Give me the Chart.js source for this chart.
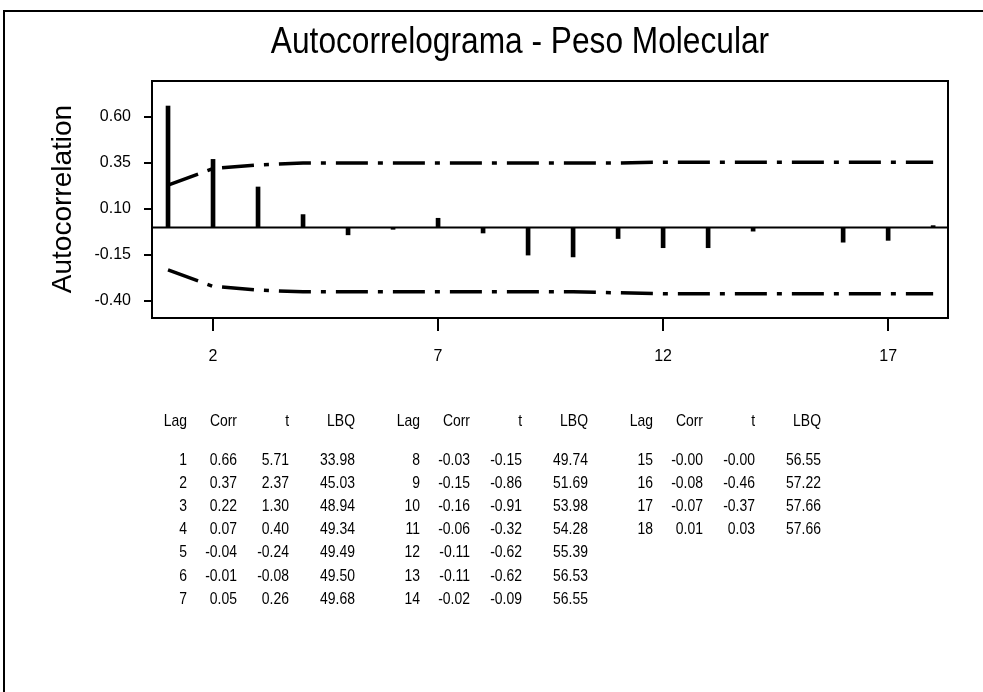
<!DOCTYPE html>
<html>
<head>
<meta charset="utf-8">
<title>Autocorrelograma - Peso Molecular</title>
<script src="https://cdn.jsdelivr.net/npm/chart.js@4.4.1/dist/chart.umd.min.js"></script>
<style>
  html, body { margin: 0; padding: 0; background: #fff; }
  canvas { display: block; }
</style>
</head>
<body>
<canvas id="acf" width="983" height="692"></canvas>
<script>
var lags = [1, 2, 3, 4, 5, 6, 7, 8, 9, 10, 11, 12, 13, 14, 15, 16, 17, 18];
var corr = [0.66, 0.37, 0.22, 0.07, -0.04, -0.01, 0.05, -0.03, -0.15, -0.16, -0.06, -0.11, -0.11, -0.02, -0.00, -0.08, -0.07, 0.01];
var tStat = [5.71, 2.37, 1.30, 0.40, -0.24, -0.08, 0.26, -0.15, -0.86, -0.91, -0.32, -0.62, -0.62, -0.09, -0.00, -0.46, -0.37, 0.03];
var lbq = [33.98, 45.03, 48.94, 49.34, 49.49, 49.50, 49.68, 49.74, 51.69, 53.98, 54.28, 55.39, 56.53, 56.55, 56.55, 57.22, 57.66, 57.66];
var upperLimit = [0.23, 0.32, 0.34, 0.35, 0.35, 0.35, 0.35, 0.35, 0.35, 0.35, 0.35, 0.355, 0.355, 0.355, 0.355, 0.355, 0.355, 0.355];
var lowerLimit = [-0.23, -0.32, -0.34, -0.35, -0.35, -0.35, -0.35, -0.35, -0.35, -0.35, -0.355, -0.36, -0.36, -0.36, -0.36, -0.36, -0.36, -0.36];
var yTicks = [-0.40, -0.15, 0.10, 0.35, 0.60];
var xTicks = [2, 7, 12, 17];
var headers = ["Lag", "Corr", "t", "LBQ"];

var FONT = 'Arial, "Liberation Sans", sans-serif';

function fmt(v) {
    var neg = v < 0 || Object.is(v, -0);
    return (neg ? "-" : "") + Math.abs(v).toFixed(2);
}

function pts(ys) {
    return lags.map(function (l, i) { return { x: l, y: ys[i] }; });
}

// squeezed text, like the old Minitab output
function narrowText(ctx, txt, x, y, sx) {
    ctx.save();
    ctx.translate(x, y);
    ctx.scale(sx, 1);
    ctx.fillText(txt, 0, 0);
    ctx.restore();
}

var extras = {
    id: 'extras',
    beforeDraw: function (chart) {
        var ctx = chart.ctx;
        ctx.save();
        ctx.fillStyle = '#fff';
        ctx.fillRect(0, 0, chart.width, chart.height);
        // page frame
        ctx.strokeStyle = '#000';
        ctx.lineWidth = 2;
        ctx.beginPath();
        ctx.moveTo(4, chart.height);
        ctx.lineTo(4, 11);
        ctx.lineTo(chart.width, 11);
        ctx.stroke();
        ctx.restore();
    },
    afterDatasetsDraw: function (chart) {
        var ctx = chart.ctx;
        var a = chart.chartArea;
        var y0 = chart.scales.y.getPixelForValue(0);
        ctx.save();
        ctx.strokeStyle = '#000';
        ctx.lineWidth = 2;
        ctx.beginPath();
        ctx.moveTo(a.left, y0);
        ctx.lineTo(a.right, y0);
        ctx.stroke();
        ctx.strokeRect(a.left, a.top, a.right - a.left, a.bottom - a.top);
        ctx.restore();
    },
    afterDraw: function (chart) {
        var ctx = chart.ctx;
        ctx.save();
        ctx.fillStyle = '#000';

        ctx.font = '36px ' + FONT;
        ctx.textAlign = 'center';
        ctx.textBaseline = 'alphabetic';
        narrowText(ctx, 'Autocorrelograma - Peso Molecular', 520, 53, 0.88);

        ctx.save();
        ctx.translate(63, 199);
        ctx.rotate(-Math.PI / 2);
        ctx.font = '28px ' + FONT;
        ctx.textBaseline = 'middle';
        ctx.fillText('Autocorrelation', 0, 0);
        ctx.restore();

        // statistics table, three blocks of seven lags
        ctx.font = '17px ' + FONT;
        ctx.textAlign = 'right';
        ctx.textBaseline = 'middle';
        var colOff = [0, 50, 102, 168];
        var blocks = [187, 420, 653];
        blocks.forEach(function (bx, b) {
            headers.forEach(function (h, c) {
                narrowText(ctx, h, bx + colOff[c], 421, 0.82);
            });
            for (var r = 0; r < 7; r++) {
                var i = b * 7 + r;
                if (i >= lags.length) break;
                var y = 460 + r * 23.2;
                var row = [String(lags[i]), fmt(corr[i]), fmt(tStat[i]), fmt(lbq[i])];
                row.forEach(function (txt, c) {
                    narrowText(ctx, txt, bx + colOff[c], y, 0.82);
                });
            }
        });
        ctx.restore();
    }
};

var ct = document.getElementById('acf');

var grafico = new Chart(ct, {
    data: {
        datasets: [{
            type: 'bar',
            label: 'Corr',
            data: pts(corr),
            backgroundColor: '#000',
            borderWidth: 0,
            barThickness: 4,
            order: 2
        },
        {
            type: 'line',
            label: 'Upper',
            data: pts(upperLimit),
            borderColor: '#000',
            borderWidth: 3.5,
            borderDash: [32, 10, 5, 10],
            pointRadius: 0,
            tension: 0,
            fill: false,
            order: 1
        },
        {
            type: 'line',
            label: 'Lower',
            data: pts(lowerLimit),
            borderColor: '#000',
            borderWidth: 3.5,
            borderDash: [32, 10, 5, 10],
            pointRadius: 0,
            tension: 0,
            fill: false,
            order: 1
        }]
    },
    options: {
        responsive: false,
        animation: false,
        layout: { padding: { left: 0, top: 81, right: 35, bottom: 314 } },
        plugins: {
            legend: { display: false },
            tooltip: { enabled: false }
        },
        scales: {
            x: {
                type: 'linear',
                min: 0.644,
                max: 18.33,
                offset: false,
                afterBuildTicks: function (axis) {
                    axis.ticks = xTicks.map(function (v) { return { value: v }; });
                },
                afterFit: function (axis) { axis.height = 60; },
                grid: { offset: false, drawOnChartArea: false, drawTicks: true, tickLength: 13, color: '#000', lineWidth: 2 },
                border: { display: true, color: '#000', width: 2 },
                ticks: {
                    color: '#000',
                    font: { family: FONT, size: 16 },
                    padding: 16,
                    maxRotation: 0,
                    callback: function (v) { return v; }
                }
            },
            y: {
                type: 'linear',
                min: -0.492,
                max: 0.796,
                afterBuildTicks: function (axis) {
                    axis.ticks = yTicks.map(function (v) { return { value: v }; });
                },
                afterFit: function (axis) { axis.width = 152; },
                grid: { drawOnChartArea: false, drawTicks: true, tickLength: 8, color: '#000', lineWidth: 2 },
                border: { display: true, color: '#000', width: 2 },
                ticks: {
                    color: '#000',
                    font: { family: FONT, size: 16 },
                    padding: 13,
                    callback: function (v) { return v.toFixed(2); }
                }
            }
        }
    },
    plugins: [extras]
});
</script>
</body>
</html>
